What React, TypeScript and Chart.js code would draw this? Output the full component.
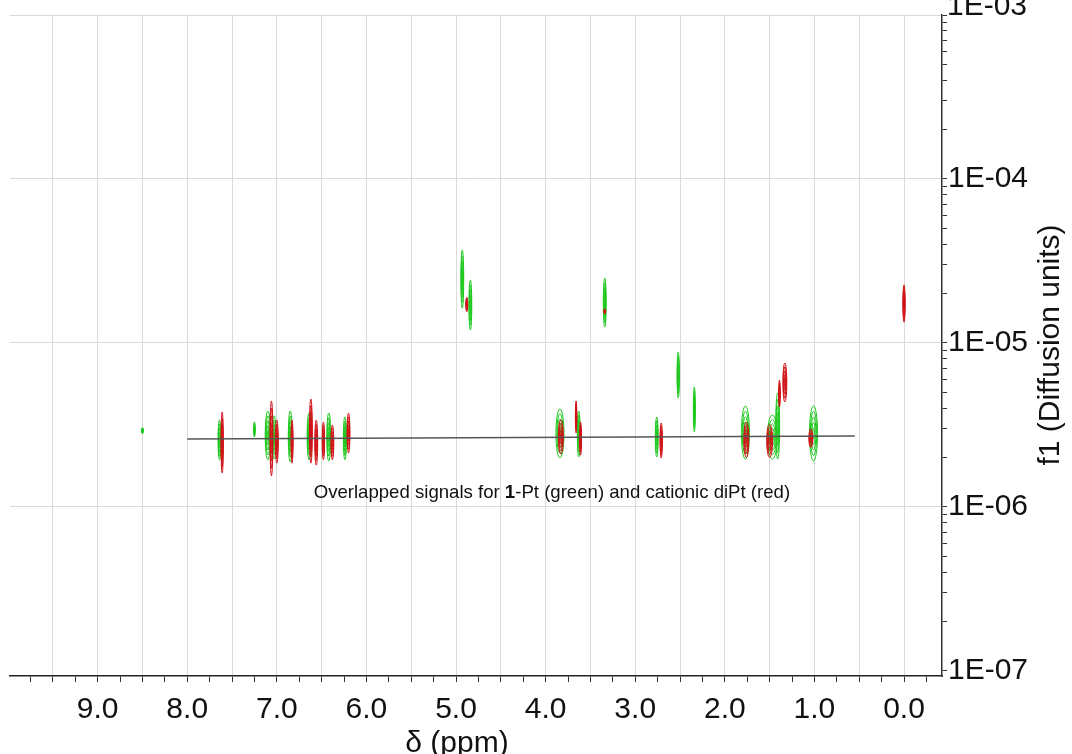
import { useEffect, useRef } from 'react';
import { Chart, registerables } from 'chart.js';

Chart.register(...registerables);

// Chemical-shift axis (ppm, reversed) and diffusion axis (log) limits
const X_MIN = -0.424;
const X_MAX = 9.978;
const Y_MIN = 9.32e-8;
const Y_MAX = 1e-3;

// Tick labels
const xLabelValues = [9, 8, 7, 6, 5, 4, 3, 2, 1, 0];
const yDecades = [1e-7, 1e-6, 1e-5, 1e-4, 1e-3];
const yDecadeLabels = ['1E-07', '1E-06', '1E-05', '1E-04', '1E-03'];

// 1-Pt signals (green): shift, upper / lower diffusion extent, half-width in ppm
const greenPpm = [8.5, 7.64, 7.25, 7.1, 7.03, 6.85, 6.64, 6.42, 6.24, 4.93, 4.84, 3.34, 3.84, 3.63, 2.76, 2.52, 2.34, 1.77, 1.47, 1.41, 1.01];
const greenTop = [3.05e-6, 3.39e-6, 3.3e-6, 3.85e-6, 3.6e-6, 3.85e-6, 3.74e-6, 3.74e-6, 3.54e-6, 3.69e-5, 2.42e-5, 2.49e-5, 3.96e-6, 3.85e-6, 3.54e-6, 8.81e-6, 5.39e-6, 4.13e-6, 3.64e-6, 4.96e-6, 4.13e-6];
const greenBottom = [2.8e-6, 1.94e-6, 2.67e-6, 1.94e-6, 1.96e-6, 1.88e-6, 1.94e-6, 1.91e-6, 1.94e-6, 1.63e-5, 1.2e-5, 1.25e-5, 1.99e-6, 2.02e-6, 2.02e-6, 4.62e-6, 2.87e-6, 1.96e-6, 1.96e-6, 1.96e-6, 1.91e-6];
const greenWidth = [0.012, 0.016, 0.008, 0.03, 0.022, 0.022, 0.022, 0.022, 0.018, 0.016, 0.016, 0.016, 0.045, 0.016, 0.016, 0.013, 0.011, 0.045, 0.055, 0.022, 0.045];

// cationic diPt signals (red)
const redPpm = [7.61, 7.06, 7.0, 6.83, 6.62, 6.56, 6.48, 6.38, 6.2, 4.88, 3.34, 0.0, 3.83, 3.66, 3.61, 2.71, 1.76, 1.5, 1.39, 1.33, 1.04];
const redTop = [3.79e-6, 4.43e-6, 3.39e-6, 3.39e-6, 4.56e-6, 3.39e-6, 3.3e-6, 3.16e-6, 3.74e-6, 1.9e-5, 1.62e-5, 2.26e-5, 3.4e-6, 4.43e-6, 3.3e-6, 3.25e-6, 3.3e-6, 3.2e-6, 5.94e-6, 7.55e-6, 3.0e-6];
const redBottom = [1.61e-6, 1.55e-6, 1.85e-6, 1.85e-6, 1.85e-6, 1.8e-6, 1.94e-6, 1.94e-6, 2.13e-6, 1.55e-5, 1.5e-5, 1.34e-5, 2.1e-6, 2.83e-6, 2.07e-6, 1.99e-6, 2.0e-6, 2.0e-6, 4.07e-6, 4.37e-6, 2.3e-6];
const redWidth = [0.013, 0.016, 0.016, 0.011, 0.016, 0.016, 0.013, 0.016, 0.016, 0.011, 0.006, 0.013, 0.028, 0.008, 0.011, 0.013, 0.028, 0.033, 0.008, 0.022, 0.022];

// Fitted diffusion line across the shared signals
const linePpm = [8.0, 0.55];
const lineD = [2.6e-6, 2.71e-6];

// Annotation anchor
const noteText = ['Overlapped signals for ', '1', '-Pt (green) and cationic diPt (red)'];
const notePpm = 3.93;
const noteD = 1.22e-6;

const FONT = '"Liberation Sans", Arial, sans-serif';
const GREEN = 'rgb(30,200,30)';
const RED = 'rgb(208,18,22)';
// canvas is lifted so the plot frame starts right below the page top
const LIFT = 4;

function isDecade(v: number) {
  const l = Math.log10(v);
  return Math.abs(l - Math.round(l)) < 1e-6;
}

function drawPeaks(ctx: CanvasRenderingContext2D, xs: any, ys: any, ppm: number[], top: number[], bottom: number[], width: number[], color: string) {
  ctx.strokeStyle = color;
  ctx.lineWidth = 1;
  for (let i = 0; i < ppm.length; i++) {
    const xc = xs.getPixelForValue(ppm[i]);
    const hw = Math.abs(xs.getPixelForValue(ppm[i] - width[i]) - xc);
    const yt = ys.getPixelForValue(top[i]);
    const yb = ys.getPixelForValue(bottom[i]);
    const cy = (yt + yb) / 2;
    const ry = Math.abs(yb - yt) / 2;
    for (const s of [1, 0.8, 0.6, 0.4, 0.2]) {
      ctx.beginPath();
      ctx.ellipse(xc, cy, Math.max(hw * s, 0.6), Math.max(ry * s, 0.6), 0, 0, Math.PI * 2);
      ctx.stroke();
    }
  }
}

const dosyPlugin = {
  id: 'dosyContours',
  beforeDatasetsDraw(chart: any) {
    const { ctx, chartArea, scales } = chart;
    ctx.save();
    ctx.beginPath();
    ctx.rect(chartArea.left, chartArea.top, chartArea.right - chartArea.left, chartArea.bottom - chartArea.top);
    ctx.clip();
    drawPeaks(ctx, scales.x, scales.y, greenPpm, greenTop, greenBottom, greenWidth, GREEN);
    drawPeaks(ctx, scales.x, scales.y, redPpm, redTop, redBottom, redWidth, RED);
    ctx.restore();
  },
  afterDraw(chart: any) {
    const { ctx, chartArea, scales } = chart;
    ctx.save();
    ctx.fillStyle = '#111';

    // annotation with bold compound number
    const cx = scales.x.getPixelForValue(notePpm);
    const cy = scales.y.getPixelForValue(noteD);
    const size = 18.6;
    const fonts = [`${size}px ${FONT}`, `bold ${size}px ${FONT}`, `${size}px ${FONT}`];
    let total = 0;
    const widths = noteText.map((t, i) => {
      ctx.font = fonts[i];
      const w = ctx.measureText(t).width;
      total += w;
      return w;
    });
    let px = cx - total / 2;
    ctx.textBaseline = 'middle';
    ctx.textAlign = 'left';
    noteText.forEach((t, i) => {
      ctx.font = fonts[i];
      ctx.fillText(t, px, cy);
      px += widths[i];
    });

    // top decade label sits against the upper edge
    ctx.font = `30px ${FONT}`;
    ctx.fillText(yDecadeLabels[4], chartArea.right + 5, 7 + LIFT);

    // axis titles
    ctx.textAlign = 'center';
    ctx.textBaseline = 'alphabetic';
    ctx.fillText('δ (ppm)', 457, 752 + LIFT);
    ctx.translate(1059, 345 + LIFT);
    ctx.rotate(-Math.PI / 2);
    ctx.fillText('f1 (Diffusion units)', 0, 0);
    ctx.restore();
  },
};

export default function App() {
  const canvasRef = useRef<HTMLCanvasElement | null>(null);

  useEffect(() => {
    if (!canvasRef.current) return;
    const chart = new Chart(canvasRef.current, {
      type: 'scatter',
      data: {
        datasets: [
          {
            data: linePpm.map((p, i) => ({ x: p, y: lineD[i] })),
            showLine: true,
            borderColor: '#555',
            borderWidth: 1.6,
            pointRadius: 0,
          },
        ],
      },
      options: {
        animation: false,
        responsive: true,
        maintainAspectRatio: false,
        layout: { padding: { left: 10, top: 11, right: 0, bottom: 0 } },
        plugins: { legend: { display: false }, tooltip: { enabled: false } },
        scales: {
          x: {
            type: 'linear',
            reverse: true,
            min: X_MIN,
            max: X_MAX,
            afterBuildTicks: (scale: any) => {
              const ticks = [];
              for (let i = -1; i <= 39; i++) ticks.push({ value: i * 0.25 });
              scale.ticks = ticks;
            },
            afterFit: (scale: any) => {
              scale.height = 78;
            },
            grid: {
              color: (ctx: any) => {
                const v = ctx.tick ? ctx.tick.value : 0;
                return Math.abs(v * 2 - Math.round(v * 2)) < 1e-6 ? '#dadada' : 'rgba(0,0,0,0)';
              },
              tickColor: '#333',
              tickLength: 6,
              lineWidth: 1,
            },
            border: { display: true, color: '#222', width: 1.5 },
            ticks: {
              autoSkip: false,
              maxRotation: 0,
              padding: 10,
              color: '#111',
              font: { family: FONT, size: 30 },
              callback: (value: any) => {
                const v = Number(value);
                const hit = xLabelValues.find((t) => Math.abs(t - v) < 1e-6);
                return hit === undefined ? '' : hit.toFixed(1);
              },
            },
          },
          y: {
            type: 'logarithmic',
            position: 'right',
            min: Y_MIN,
            max: Y_MAX,
            afterBuildTicks: (scale: any) => {
              const ticks = [];
              for (let e = -7; e <= -4; e++) {
                for (let m = 1; m <= 9; m++) ticks.push({ value: m * Math.pow(10, e) });
              }
              ticks.push({ value: 1e-3 });
              scale.ticks = ticks;
            },
            afterFit: (scale: any) => {
              scale.width = 130;
            },
            grid: {
              color: (ctx: any) => {
                const v = ctx.tick ? ctx.tick.value : 1;
                return isDecade(v) && v > 2e-7 ? '#dadada' : 'rgba(0,0,0,0)';
              },
              tickColor: '#333',
              tickLength: 5,
              lineWidth: 1,
            },
            border: { display: true, color: '#333', width: 1.5 },
            ticks: {
              autoSkip: false,
              padding: 1,
              color: '#111',
              font: { family: FONT, size: 30 },
              callback: (value: any) => {
                const v = Number(value);
                const idx = yDecades.findIndex((d) => Math.abs(d - v) / d < 1e-6);
                return idx < 0 || idx === 4 ? '' : yDecadeLabels[idx];
              },
            },
          },
        },
      },
      plugins: [dosyPlugin],
    });
    return () => chart.destroy();
  }, []);

  return (
    <div style={{ position: 'fixed', left: 0, top: -LIFT, width: 1072, height: 754 + LIFT, background: '#fff' }}>
      <canvas ref={canvasRef} />
    </div>
  );
}
